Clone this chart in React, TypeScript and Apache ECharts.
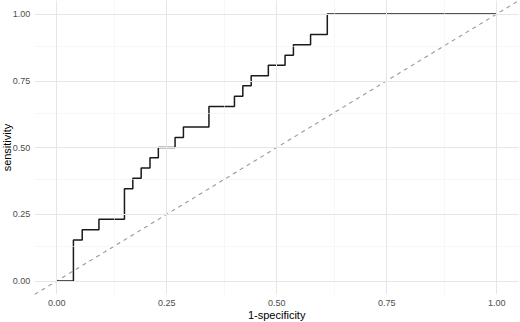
import React, { useEffect, useRef } from "react";
import * as echarts from "echarts";

// ROC curve corner points (1-specificity, sensitivity)
const fpr = [0, 0.038, 0.058, 0.096, 0.154, 0.173, 0.192, 0.212, 0.231, 0.269, 0.288, 0.346, 0.404, 0.423, 0.442, 0.481, 0.519, 0.538, 0.577, 0.615, 1.0];
const tpr = [0, 0.154, 0.192, 0.231, 0.346, 0.385, 0.423, 0.462, 0.5, 0.538, 0.577, 0.654, 0.692, 0.731, 0.769, 0.808, 0.846, 0.885, 0.923, 1.0, 1.0];
const diagonal = [-0.05, 1.05];
const majorTicks = [0, 0.25, 0.5, 0.75, 1.0];
const minorTicks = [0.125, 0.375, 0.625, 0.875];
const xTitle = "1-specificity";
const yTitle = "sensitivity";

export default function App() {
  const ref = useRef<HTMLDivElement>(null);
  useEffect(() => {
    if (!ref.current) return;
    const chart = echarts.init(ref.current, null, { renderer: "svg" });
    const isMajor = (v: number) => majorTicks.some((t) => Math.abs(t - v) < 1e-6);
    const fmt = (v: number) => (isMajor(v) ? v.toFixed(2) : "");
    const font = "'Liberation Sans', Arial, sans-serif";
    const axisCommon = {
      type: "value" as const,
      min: -0.05,
      max: 1.05,
      interval: 0.05,
      axisLine: { show: false },
      axisTick: { show: false },
      splitLine: { show: false },
      nameLocation: "middle" as const,
      nameMoveOverlap: false,
      nameTextStyle: { color: "#000", fontSize: 11, fontFamily: font },
      axisLabel: { formatter: fmt, color: "#4d4d4d", fontSize: 9, fontFamily: font, margin: 4.5 },
    };
    const gridLines = [
      ...minorTicks.map((v) => ({ xAxis: v, lineStyle: { color: "#f2f2f2", width: 0.6, type: "solid" } })),
      ...minorTicks.map((v) => ({ yAxis: v, lineStyle: { color: "#f2f2f2", width: 0.6, type: "solid" } })),
      ...majorTicks.map((v) => ({ xAxis: v, lineStyle: { color: "#e6e6e6", width: 1, type: "solid" } })),
      ...majorTicks.map((v) => ({ yAxis: v, lineStyle: { color: "#e6e6e6", width: 1, type: "solid" } })),
    ];
    chart.setOption({
      animation: false,
      backgroundColor: "#fff",
      grid: { left: 34.7, right: 1.3, top: 0.65, bottom: 27.6, containLabel: false, outerBoundsMode: "none" },
      xAxis: { ...axisCommon, name: xTitle, nameGap: 15 },
      yAxis: { ...axisCommon, name: yTitle, nameGap: 22 },
      series: [
        {
          type: "line",
          data: [],
          silent: true,
          z: 1,
          markLine: { silent: true, symbol: "none", label: { show: false }, data: gridLines as any },
        },
        {
          type: "line",
          data: diagonal.map((v) => [v, v]),
          symbol: "none",
          lineStyle: { color: "#999999", width: 1.1, type: [4, 4] },
          silent: true,
          clip: true,
          z: 3,
        },
        {
          type: "line",
          step: "end",
          data: fpr.map((x, i) => [x, tpr[i]]),
          symbol: "none",
          lineStyle: { color: "#1a1a1a", width: 1.5 },
          silent: true,
          z: 4,
        },
      ],
    });
    return () => chart.dispose();
  }, []);
  return <div ref={ref} style={{ width: 520, height: 322, position: "absolute", left: 0, top: 0 }} />;
}
